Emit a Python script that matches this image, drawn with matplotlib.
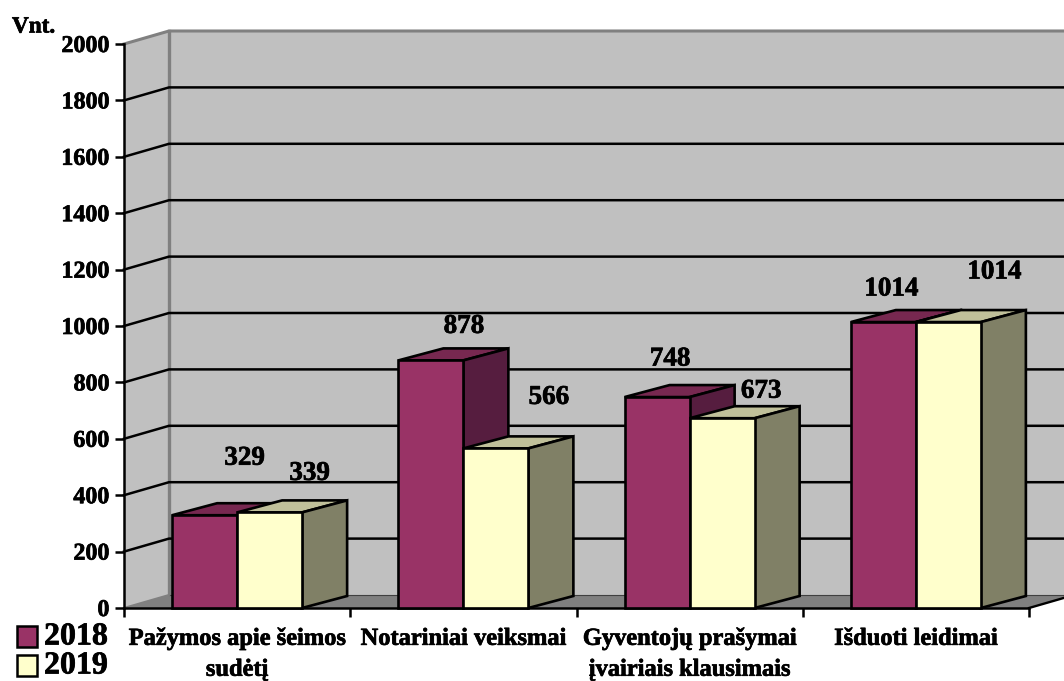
import matplotlib
matplotlib.use("Agg")
import matplotlib.pyplot as plt
import matplotlib.patheffects as pe
from matplotlib.patches import Polygon, Rectangle

plt.rcParams['font.family'] = ['Liberation Serif', 'DejaVu Serif']
plt.rcParams['font.weight'] = 'bold'

categories = ["Pažymos apie šeimos\nsudėtį", "Notariniai veiksmai",
              "Gyventojų prašymai\nįvairiais klausimais", "Išduoti leidimai"]
series_2018 = [329, 878, 748, 1014]
series_2019 = [339, 566, 673, 1014]
y_ticks = [0, 200, 400, 600, 800, 1000, 1200, 1400, 1600, 1800, 2000]

W, H = 1064, 681
fig = plt.figure(figsize=(W / 100, H / 100), dpi=100)
ax = fig.add_axes([124 / W, 1 - 608 / H, (1029 - 124) / W, (608 - 44) / H])
ax.set_xlim(0, len(categories))
ax.set_ylim(0, 2000)

# depth of the fake 3d box, px converted to data units
px_x = len(categories) / (1029 - 124)
px_y = 2000 / (608 - 44)
dx = 45 * px_x
dy = 13 * px_y
bar_dx = 45 * px_x
bar_dy = 12 * px_y
n = len(categories)
w = 65 * px_x
heavy = [pe.withStroke(linewidth=0.5, foreground='black')]


def poly(pts, face, edge='none', lw=0, z=1):
    ax.add_patch(Polygon(pts, closed=True, facecolor=face, edgecolor=edge, linewidth=lw,
                         clip_on=False, zorder=z, joinstyle='miter'))


# walls and floor
poly([(0, 0), (dx, dy), (dx, 2000 + dy), (0, 2000)], '#C0C0C0')
poly([(dx, dy), (n + dx, dy), (n + dx, 2000 + dy), (dx, 2000 + dy)], '#C0C0C0')
poly([(0, 0), (dx, dy), (n + dx, dy), (n, 0)], '#808080')
ax.plot([0, dx, n + dx], [2000, 2000 + dy, 2000 + dy], color='#808080', lw=2.2, clip_on=False, zorder=1.2)
ax.plot([dx, dx], [dy, 2000 + dy], color='#808080', lw=2.4, clip_on=False, zorder=1.2)
ax.plot([dx, n + dx], [dy, dy], color='#404040', lw=0.8, clip_on=False, zorder=1.2)
ax.plot([0, dx], [0, dy], color='#808080', lw=1.5, clip_on=False, zorder=1.2)
ax.plot([n, n + dx], [0, dy], color='black', lw=1.7, clip_on=False, zorder=1.2)

# grid lines on both walls
for v in y_ticks[1:-1]:
    ax.plot([0, dx, n + dx], [v, v + dy, v + dy], color='black', lw=1.8, clip_on=False, zorder=1.3)


def bar3d(x, v, front, top, side):
    poly([(x, v), (x + bar_dx, v + bar_dy), (x + w + bar_dx, v + bar_dy), (x + w, v)], top, 'black', 1.9, 3)
    poly([(x + w, 0), (x + w + bar_dx, bar_dy), (x + w + bar_dx, v + bar_dy), (x + w, v)], side, 'black', 1.9, 3)
    poly([(x, 0), (x + w, 0), (x + w, v), (x, v)], front, 'black', 1.9, 3)


for i in range(n):
    x0 = i + 0.5 - w
    bar3d(x0, series_2018[i], '#993366', '#772850', '#561D3F')
    bar3d(x0 + w, series_2019[i], '#FFFFCC', '#C0C09A', '#808066')

# value labels sit off the bars in the original, nudges in px
nudge_2018 = [(40, 57), (33, 34), (13, 38), (8, 33)]
nudge_2019 = [(40, 39), (53, 51), (39, 27), (46, 50)]
for i in range(n):
    x0 = i + 0.5 - w
    ax.annotate(str(series_2018[i]), (x0 + w / 2, series_2018[i]), xytext=nudge_2018[i],
                textcoords='offset pixels', ha='center', va='center', fontsize=19.5,
                annotation_clip=False, zorder=5, path_effects=heavy)
    ax.annotate(str(series_2019[i]), (x0 + w * 1.5, series_2019[i]), xytext=nudge_2019[i],
                textcoords='offset pixels', ha='center', va='center', fontsize=19.5,
                annotation_clip=False, zorder=5, path_effects=heavy)

# axes
for s in ['top', 'right']:
    ax.spines[s].set_visible(False)
for s in ['left', 'bottom']:
    ax.spines[s].set_linewidth(1.8)
ax.patch.set_visible(False)
ax.set_yticks(y_ticks)
ax.set_yticklabels([str(v) for v in y_ticks], fontsize=17.3, fontweight='bold', path_effects=heavy)
ax.tick_params(axis='y', length=6.5, width=1.8, pad=4)
ax.set_xticks(range(n + 1))
ax.set_xticklabels([])
ax.tick_params(axis='x', length=6.5, width=1.8)
ax.set_xticks([i + 0.5 for i in range(n)], minor=True)
ax.set_xticklabels(categories, minor=True, fontsize=17.6, fontweight='bold', linespacing=1.62,
                   path_effects=heavy)
ax.tick_params(axis='x', which='minor', length=0, pad=15)

fig.text(12 / W, 1 - 27 / H, "Vnt.", fontsize=16.7, fontweight='bold', ha='left', va='center', path_effects=heavy)

# legend drawn by hand, it sits under the axis
for y0, col, lab in [(626, '#993366', '2018'), (655, '#FFFFCC', '2019')]:
    fig.add_artist(Rectangle((16.5 / W, 1 - (y0 + 20.5) / H), 20 / W, 20.5 / H, facecolor=col,
                             edgecolor='black', linewidth=1.8, transform=fig.transFigure))
    fig.text(44 / W, 1 - (y0 + 11) / H, lab, fontsize=23, fontweight='bold', ha='left', va='center', path_effects=heavy)

fig.savefig("out.png", dpi=100)
